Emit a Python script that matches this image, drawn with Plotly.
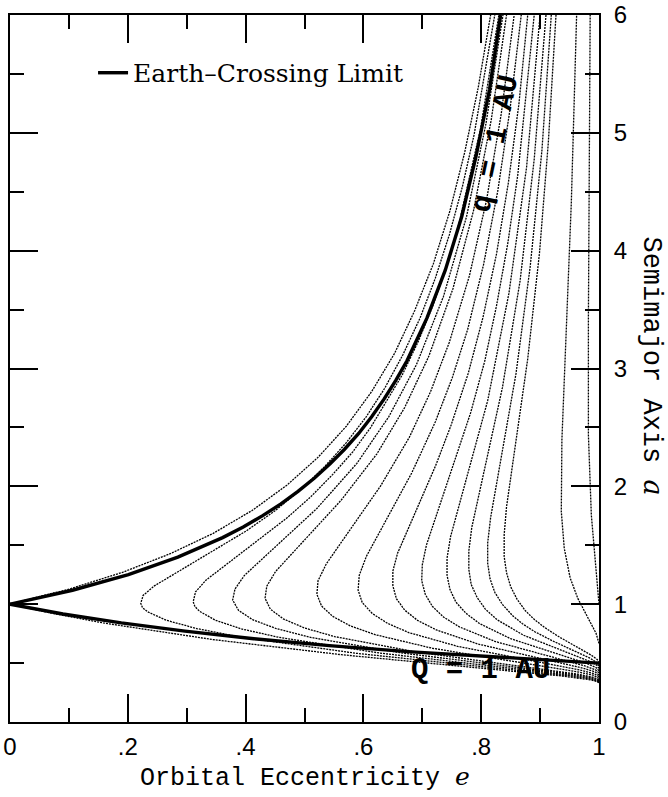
import plotly.graph_objects as go

# ---- data (e = orbital eccentricity, a = semimajor axis, AU) ----
# Earth-crossing limits (thick lines)
q1_e = [0.0, 0.106, 0.201, 0.285, 0.361, 0.396, 0.429, 0.460, 0.489, 0.517, 0.543, 0.568,
        0.592, 0.614, 0.635, 0.655, 0.674, 0.691, 0.708, 0.739, 0.767, 0.791, 0.814, 0.833]
q1_a = [1.0, 1.118, 1.251, 1.399, 1.565, 1.655, 1.751, 1.851, 1.958, 2.071, 2.190, 2.315,
        2.449, 2.590, 2.740, 2.899, 3.065, 3.241, 3.429, 3.834, 4.290, 4.795, 5.363, 6.0]
Q1_e = [0.0, 0.090, 0.189, 0.297, 0.414, 0.542, 0.682, 1.0]
Q1_a = [1.0, 0.917, 0.841, 0.771, 0.707, 0.648, 0.595, 0.500]

# dotted curves (one per curve, labelled by their parameter value)
curve_labels = ["3.0", "2.95", "2.9", "2.85", "2.8", "2.7", "2.6", "2.5", "2.4",
                "2.3", "2.2", "2.1", "2.0", "1.5", "1.0"]

c300_e = [1.0, 0.996, 0.985, 0.938, 0.563, 0.344, 0.158, 0.076, 0.0, 0.101, 0.191, 0.272, 0.345,
          0.411, 0.470, 0.523, 0.571, 0.614, 0.653, 0.687, 0.719, 0.747, 0.772, 0.795, 0.816]
c300_a = [0.333, 0.345, 0.358, 0.390, 0.571, 0.700, 0.841, 0.918, 1.0, 1.129, 1.270, 1.428, 1.601,
          1.795, 2.009, 2.246, 2.510, 2.804, 3.129, 3.490, 3.892, 4.339, 4.835, 5.386, 6.0]
c295_e = [1.0, 0.988, 0.950, 0.588, 0.391, 0.317, 0.265, 0.234, 0.225, 0.222, 0.226, 0.245, 0.401,
          0.450, 0.494, 0.534, 0.571, 0.605, 0.636, 0.667, 0.696, 0.722, 0.746, 0.768, 0.788, 0.823]
c295_a = [0.339, 0.362, 0.391, 0.583, 0.721, 0.793, 0.864, 0.934, 0.970, 1.007, 1.074, 1.155, 1.621,
          1.793, 1.974, 2.166, 2.371, 2.592, 2.831, 3.116, 3.426, 3.765, 4.136, 4.541, 4.985, 6.0]
c290_e = [1.0, 0.989, 0.956, 0.628, 0.457, 0.393, 0.349, 0.322, 0.314, 0.311, 0.315, 0.333, 0.470,
          0.511, 0.548, 0.582, 0.612, 0.666, 0.693, 0.718, 0.741, 0.762, 0.799, 0.830]
c290_a = [0.345, 0.367, 0.395, 0.585, 0.718, 0.790, 0.863, 0.939, 0.979, 1.020, 1.104, 1.205, 1.731,
          1.913, 2.101, 2.293, 2.497, 2.946, 3.228, 3.533, 3.865, 4.224, 5.038, 6.0]
c285_e = [1.0, 0.990, 0.960, 0.662, 0.508, 0.452, 0.412, 0.388, 0.378, 0.382, 0.398, 0.521, 0.589,
          0.643, 0.690, 0.736, 0.775, 0.808, 0.837]
c285_a = [0.351, 0.373, 0.401, 0.588, 0.720, 0.793, 0.868, 0.947, 1.035, 1.129, 1.244, 1.812, 2.195,
          2.590, 3.032, 3.612, 4.287, 5.076, 6.0]
c280_e = [1.0, 0.991, 0.964, 0.691, 0.551, 0.500, 0.464, 0.442, 0.433, 0.436, 0.451, 0.562, 0.623,
          0.670, 0.711, 0.752, 0.787, 0.817, 0.843]
c280_a = [0.357, 0.379, 0.406, 0.593, 0.725, 0.798, 0.875, 0.958, 1.050, 1.153, 1.278, 1.881, 2.276,
          2.668, 3.103, 3.677, 4.340, 5.108, 6.0]
c270_e = [1.0, 0.991, 0.962, 0.717, 0.621, 0.578, 0.548, 0.529, 0.521, 0.523, 0.537, 0.629, 0.678,
          0.714, 0.746, 0.780, 0.809, 0.834, 0.856]
c270_a = [0.370, 0.396, 0.427, 0.626, 0.740, 0.815, 0.896, 0.984, 1.083, 1.199, 1.342, 2.002, 2.416,
          2.803, 3.224, 3.787, 4.427, 5.160, 6.0]
c260_e = [1.0, 0.992, 0.967, 0.760, 0.677, 0.641, 0.615, 0.598, 0.591, 0.593, 0.605, 0.682, 0.722,
          0.751, 0.777, 0.804, 0.828, 0.849, 0.868]
c260_a = [0.385, 0.410, 0.442, 0.642, 0.759, 0.837, 0.921, 1.014, 1.119, 1.246, 1.405, 2.113, 2.546,
          2.923, 3.331, 3.882, 4.503, 5.204, 6.0]
c250_e = [1.0, 0.993, 0.972, 0.795, 0.724, 0.692, 0.670, 0.656, 0.650, 0.650, 0.658, 0.723, 0.749,
          0.778, 0.803, 0.826, 0.846, 0.864, 0.879]
c250_a = [0.400, 0.426, 0.458, 0.661, 0.781, 0.862, 0.950, 1.047, 1.157, 1.280, 1.432, 2.180, 2.521,
          2.959, 3.433, 3.972, 4.572, 5.244, 6.0]
c240_e = [1.0, 0.994, 0.976, 0.824, 0.763, 0.736, 0.717, 0.705, 0.699, 0.700, 0.707, 0.782, 0.806,
          0.826, 0.845, 0.862, 0.890]
c240_a = [0.417, 0.443, 0.476, 0.683, 0.807, 0.891, 0.982, 1.084, 1.200, 1.334, 1.501, 2.623, 3.062,
          3.532, 4.058, 4.639, 6.0]
c230_e = [1.0, 0.995, 0.980, 0.850, 0.797, 0.774, 0.757, 0.747, 0.742, 0.742, 0.748, 0.811, 0.847,
          0.877, 0.900]
c230_a = [0.435, 0.462, 0.496, 0.707, 0.836, 0.923, 1.018, 1.124, 1.245, 1.391, 1.573, 2.727, 3.636,
          4.706, 6.0]
c220_e = [1.0, 0.996, 0.983, 0.872, 0.827, 0.807, 0.793, 0.783, 0.779, 0.779, 0.784, 0.836, 0.866,
          0.890, 0.910]
c220_a = [0.455, 0.483, 0.517, 0.736, 0.868, 0.958, 1.057, 1.167, 1.294, 1.452, 1.651, 2.837, 3.743,
          4.775, 6.0]
c210_e = [1.0, 0.996, 0.985, 0.921, 0.891, 0.870, 0.853, 0.836, 0.823, 0.815, 0.811, 0.811, 0.816,
          0.859, 0.883, 0.903, 0.919]
c210_a = [0.476, 0.505, 0.541, 0.689, 0.766, 0.834, 0.904, 0.998, 1.101, 1.215, 1.347, 1.519, 1.735,
          2.954, 3.857, 4.846, 6.0]
c200_e = [1.0, 0.997, 0.987, 0.933, 0.908, 0.890, 0.875, 0.861, 0.850, 0.843, 0.839, 0.839, 0.843,
          0.879, 0.899, 0.914, 0.927]
c200_a = [0.500, 0.530, 0.567, 0.720, 0.801, 0.871, 0.944, 1.041, 1.148, 1.267, 1.404, 1.590, 1.826,
          3.082, 3.982, 4.921, 6.0]
c150_e = [1.0, 0.995, 0.964, 0.951, 0.941, 0.936, 0.937, 0.953, 0.962]
c150_a = [0.667, 0.753, 1.049, 1.223, 1.474, 1.786, 2.392, 4.407, 6.0]
c100_e = [1.0, 0.987, 0.982, 0.982, 0.985]
c100_a = [1.0, 1.756, 2.437, 3.430, 6.0]

dotted_curves = [(c300_e, c300_a), (c295_e, c295_a), (c290_e, c290_a), (c285_e, c285_a),
                 (c280_e, c280_a), (c270_e, c270_a), (c260_e, c260_a), (c250_e, c250_a),
                 (c240_e, c240_a), (c230_e, c230_a), (c220_e, c220_a), (c210_e, c210_a),
                 (c200_e, c200_a), (c150_e, c150_a), (c100_e, c100_a)]

x_ticks = [0, 0.2, 0.4, 0.6, 0.8, 1.0]
x_tick_text = ["0", ".2", ".4", ".6", ".8", "1"]
x_minor = [0.1, 0.3, 0.5, 0.7, 0.9]
y_ticks = [0, 1, 2, 3, 4, 5, 6]
y_tick_text = ["0", "1", "2", "3", "4", "5", "6"]
y_minor = [0.5, 1.5, 2.5, 3.5, 4.5, 5.5]

fig = go.Figure()
for (ev, av), lab in zip(dotted_curves, curve_labels):
    fig.add_trace(go.Scatter(x=ev, y=av, mode="lines", name=lab, showlegend=False,
                             line=dict(color="black", width=1.3, dash="2px,1px"),
                             hoverinfo="skip"))
fig.add_trace(go.Scatter(x=q1_e, y=q1_a, mode="lines", name="Earth\u2013Crossing Limit",
                         showlegend=True, line=dict(color="black", width=3.4)))
fig.add_trace(go.Scatter(x=Q1_e, y=Q1_a, mode="lines", name="Q = 1 AU", showlegend=False,
                         line=dict(color="black", width=3.4)))

tick_font = dict(family="Liberation Sans, Arial, sans-serif", size=24, color="black")
common_axis = dict(showline=True, linecolor="black", linewidth=2, mirror="ticks",
                   ticks="inside", ticklen=28, tickwidth=1.6, tickcolor="black",
                   showgrid=False, zeroline=False, tickfont=tick_font, fixedrange=True,
                   automargin=False)

fig.update_xaxes(range=[0, 1], tickmode="array", tickvals=x_ticks, ticktext=x_tick_text,
                 ticklabelstandoff=2,
                 minor=dict(tickmode="array", tickvals=x_minor, ticks="inside", ticklen=14,
                            tickwidth=1.6, tickcolor="black", showgrid=False),
                 **common_axis)
fig.update_yaxes(range=[0, 6], side="right", tickmode="array", tickvals=y_ticks,
                 ticktext=y_tick_text, ticklabelstandoff=8,
                 minor=dict(tickmode="array", tickvals=y_minor, ticks="inside", ticklen=14,
                            tickwidth=1.6, tickcolor="black", showgrid=False),
                 **common_axis)

mono = "Liberation Mono, Courier New, monospace"
fig.update_layout(
    width=668, height=797,
    margin=dict(l=10, r=69, t=15, b=75),
    plot_bgcolor="white", paper_bgcolor="white",
    showlegend=True,
    legend=dict(x=0.141, y=0.918, xanchor="left", yanchor="middle",
                bgcolor="rgba(0,0,0,0)", borderwidth=0,
                font=dict(family="DejaVu Serif, serif", size=25, color="black")),
    annotations=[
        dict(text="Orbital Eccentricity <span style=\"font-family:'DejaVu Serif'\"><i>e</i></span>",
             xref="paper", yref="paper", x=0.5, y=-0.0792, xanchor="center", yanchor="middle",
             showarrow=False, font=dict(family=mono, size=25, color="black")),
        dict(text="Semimajor Axis <span style=\"font-family:'DejaVu Serif'\"><i>a</i></span>",
             xref="paper", yref="paper", x=1.091, y=0.5035, xanchor="center", yanchor="middle",
             textangle=90, showarrow=False, font=dict(family=mono, size=27, color="black")),
        dict(text="<b>q = 1 AU</b>", xref="x", yref="y", x=0.825, y=4.91,
             xanchor="center", yanchor="middle", textangle=-78, showarrow=False,
             font=dict(family=mono, size=29, color="black")),
        dict(text="<b>Q = 1 AU</b>", xref="x", yref="y", x=0.798, y=0.441,
             xanchor="center", yanchor="middle", showarrow=False,
             font=dict(family=mono, size=29, color="black")),
    ],
)

fig.write_html("out.html")
